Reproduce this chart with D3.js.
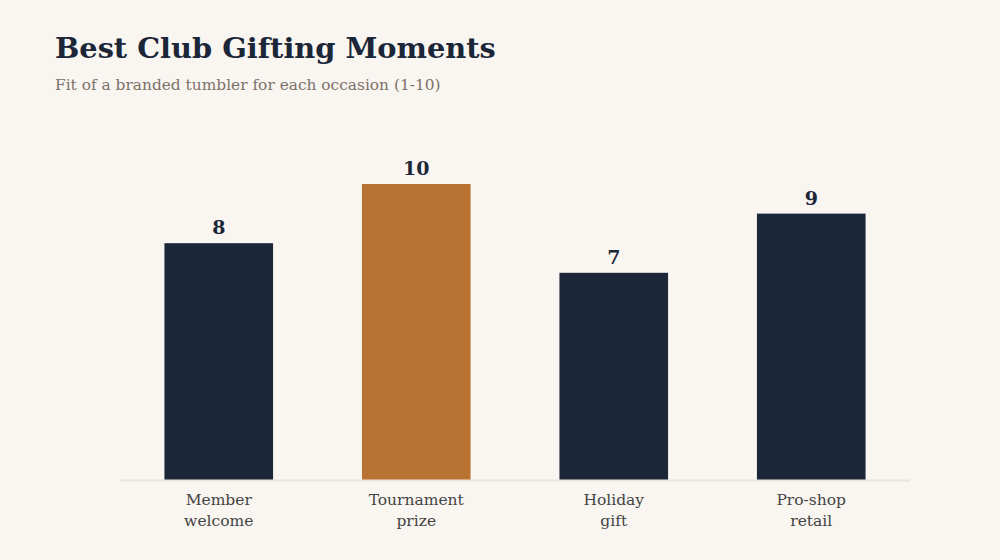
<!DOCTYPE html>
<html><head><meta charset="utf-8">
<script src="https://cdn.jsdelivr.net/npm/d3@7"></script>
<style>
html,body{margin:0;padding:0;background:#f9f5f0;}
svg{display:block;}
</style></head>
<body>
<script>
const categories = [["Member","welcome"],["Tournament","prize"],["Holiday","gift"],["Pro-shop","retail"]];
const values = [8, 10, 7, 9];
const highlight = [false, true, false, false];
const title = "Best Club Gifting Moments";
const subtitle = "Fit of a branded tumbler for each occasion (1-10)";

const W = 1000, H = 560;
const svg = d3.select("body").append("svg").attr("width", W).attr("height", H);
svg.append("rect").attr("width", W).attr("height", H).attr("fill", "#f9f5f0");

const serif = "Georgia, 'DejaVu Serif', serif";
svg.append("text").attr("x", 55).attr("y", 58).text(title)
  .attr("font-family", serif).attr("font-weight", 700).attr("font-size", 28.8)
  .attr("fill", "#1b2638");
svg.append("text").attr("x", 55).attr("y", 90).text(subtitle)
  .attr("font-family", serif).attr("font-size", 15.4)
  .attr("fill", "#7d7169");

const idx = d3.range(categories.length);
const x = d3.scaleBand().domain(idx).range([120, 910]).paddingInner(0.45).paddingOuter(0.225);
const y = d3.scaleLinear().domain([0, 10]).range([480, 184]);

svg.append("g").selectAll("rect").data(idx).join("rect")
  .attr("x", i => x(i)).attr("width", x.bandwidth())
  .attr("y", i => y(values[i])).attr("height", i => y(0) - y(values[i]))
  .attr("fill", i => highlight[i] ? "#b87333" : "#1b2638");

svg.append("line").attr("x1", 120).attr("x2", 910).attr("y1", y(0) + 0.5).attr("y2", y(0) + 0.5)
  .attr("stroke", "#ebe3da").attr("stroke-width", 2);

svg.append("g").selectAll("text").data(idx).join("text")
  .attr("x", i => x(i) + x.bandwidth() / 2).attr("y", i => y(values[i]) - 9)
  .attr("text-anchor", "middle").attr("font-family", serif).attr("font-weight", 700)
  .attr("font-size", 19).attr("fill", "#1b2638").text(i => values[i]);

const lab = svg.append("g").selectAll("text").data(idx).join("text")
  .attr("text-anchor", "middle").attr("font-family", serif).attr("font-size", 15.5)
  .attr("fill", "#444444");
lab.each(function(i) {
  const t = d3.select(this);
  categories[i].forEach((line, k) => {
    t.append("tspan").attr("x", x(i) + x.bandwidth() / 2).attr("y", 505 + k * 21).text(line);
  });
});
</script>
</body></html>
